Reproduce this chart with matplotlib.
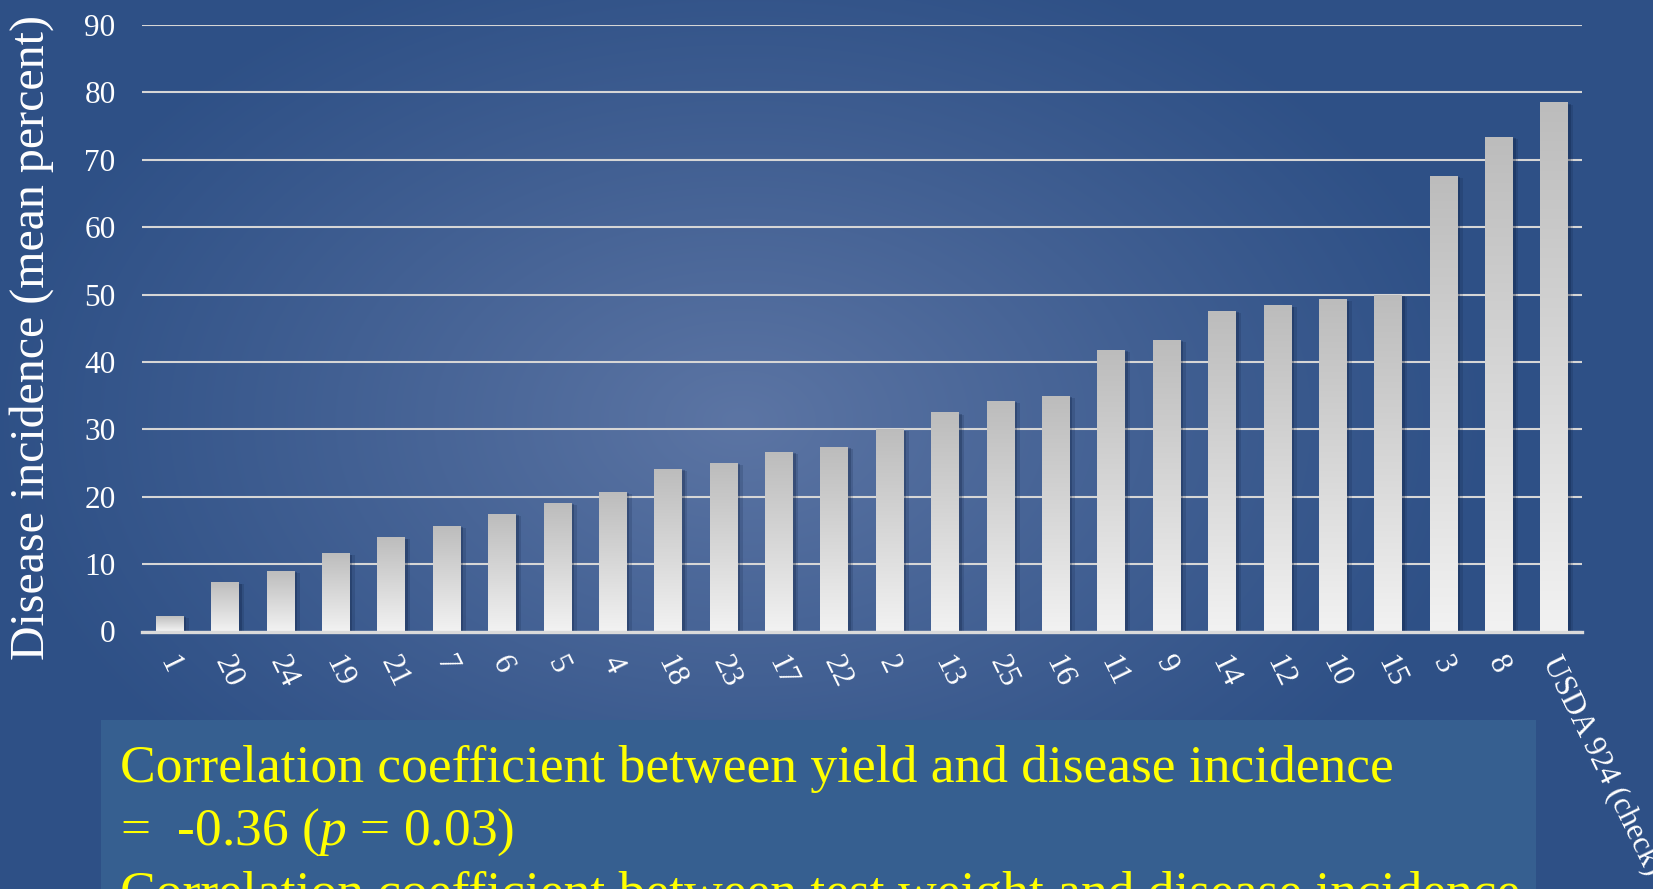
import numpy as np
import matplotlib
matplotlib.use("Agg")
import matplotlib.pyplot as plt
import matplotlib.patheffects as pe
from matplotlib.colors import LinearSegmentedColormap
from matplotlib.patches import Rectangle
from matplotlib.transforms import ScaledTranslation

# Entries ordered by increasing disease incidence
entries = ["1", "20", "24", "19", "21", "7", "6", "5", "4", "18", "23", "17", "22",
           "2", "13", "25", "16", "11", "9", "14", "12", "10", "15", "3", "8",
           "USDA 924 (check)"]
incidence = [2.35, 7.3, 9.0, 11.6, 14.0, 15.7, 17.5, 19.1, 20.7, 24.1, 25.0, 26.7, 27.4,
             30.0, 32.5, 34.2, 35.0, 41.8, 43.3, 47.6, 48.4, 49.3, 50.0, 67.6, 73.4,
             78.5]
y_ticks = [0, 10, 20, 30, 40, 50, 60, 70, 80, 90]
y_label = "Disease incidence (mean percent)"
notes = [
    "Correlation coefficient between yield and disease incidence",
    r"=  -0.36 ($p$ = 0.03)",
    "Correlation coefficient between test weight and disease incidence",
]

plt.rcParams.update({
    "font.family": ["Liberation Serif", "DejaVu Serif"],
    "mathtext.fontset": "custom",
    "mathtext.rm": "Liberation Serif",
    "mathtext.it": "Liberation Serif:italic",
})

W, H = 1653, 889
fig = plt.figure(figsize=(W / 100, H / 100), dpi=100)

# Slide background: radial glow over deep blue
bg = fig.add_axes([0, 0, 1, 1], zorder=0)
yy, xx = np.mgrid[0:H, 0:W]
r = np.sqrt(((xx - 740) / 760) ** 2 + ((yy - 420) / 500) ** 2)
t = np.clip(1 - r, 0, 1) ** 1.1
edge = np.array([0x2e, 0x50, 0x86]) / 255
centre = np.array([0x5c, 0x75, 0xa4]) / 255
img = edge + (centre - edge) * t[..., None]
bg.imshow(img, extent=[0, 1, 0, 1], aspect="auto", origin="upper")
bg.set_axis_off()

# Note panel
fig.patches.append(Rectangle((101 / W, 0), (1536 - 101) / W, (H - 720) / H,
                             transform=fig.transFigure, facecolor="#365f90",
                             edgecolor="none", zorder=1))

ax = fig.add_axes([142 / W, (H - 631.5) / H, 1440 / W, 606.5 / H], zorder=2)
ax.patch.set_alpha(0)

x = np.arange(len(entries))
shadow = [pe.SimplePatchShadow(offset=(2.0, -1.0), shadow_rgbFace="#0a1a3a", alpha=0.25),
          pe.SimplePatchShadow(offset=(3.8, -1.5), shadow_rgbFace="#0a1a3a", alpha=0.16),
          pe.Normal()]
bars = ax.bar(x, incidence, width=0.5, color="#d6d6d6", zorder=3, path_effects=shadow)

grad_cmap = LinearSegmentedColormap.from_list("bar", ["#bcbcbc", "#f2f2f2"])
grad = np.linspace(0, 1, 256).reshape(-1, 1)
for b in bars:
    im = ax.imshow(grad, extent=[b.get_x(), b.get_x() + b.get_width(), 0, b.get_height()],
                   aspect="auto", origin="upper", cmap=grad_cmap, zorder=4)
    im.set_clip_path(b)

ax.set_xlim(-0.5, len(entries) - 0.5)
ax.set_ylim(0, 90)
ax.set_yticks(y_ticks)
ax.yaxis.grid(True, color="#d6d6d6", lw=1.5)
ax.set_axisbelow(True)
for s in ("top", "right", "left"):
    ax.spines[s].set_visible(False)
ax.spines["bottom"].set_color("#dadada")
ax.spines["bottom"].set_linewidth(2.4)
ax.spines["bottom"].set_zorder(5)

ax.tick_params(axis="y", length=0, pad=19, labelsize=22.5, labelcolor="white")
ax.tick_params(axis="x", length=0, pad=19, labelsize=22.5, labelcolor="white")
ax.set_xticks(x, entries)
shift = ScaledTranslation(-4 / 100, 0, fig.dpi_scale_trans)
for lab in ax.get_xticklabels():
    lab.set_rotation(-64)
    lab.set_ha("left")
    lab.set_va("center")
    lab.set_rotation_mode("anchor")
    lab.set_transform(lab.get_transform() + shift)

fig.text(32 / W, 1 - 337 / H, y_label, rotation=90, ha="center", va="center",
         fontsize=34.5, color="white")

for i, line in enumerate(notes):
    fig.text(120 / W, 1 - (782 + 63 * i) / H, line, ha="left", va="baseline",
             fontsize=38.5, color="#ffff00", zorder=3)

fig.savefig("out.png", dpi=100)
